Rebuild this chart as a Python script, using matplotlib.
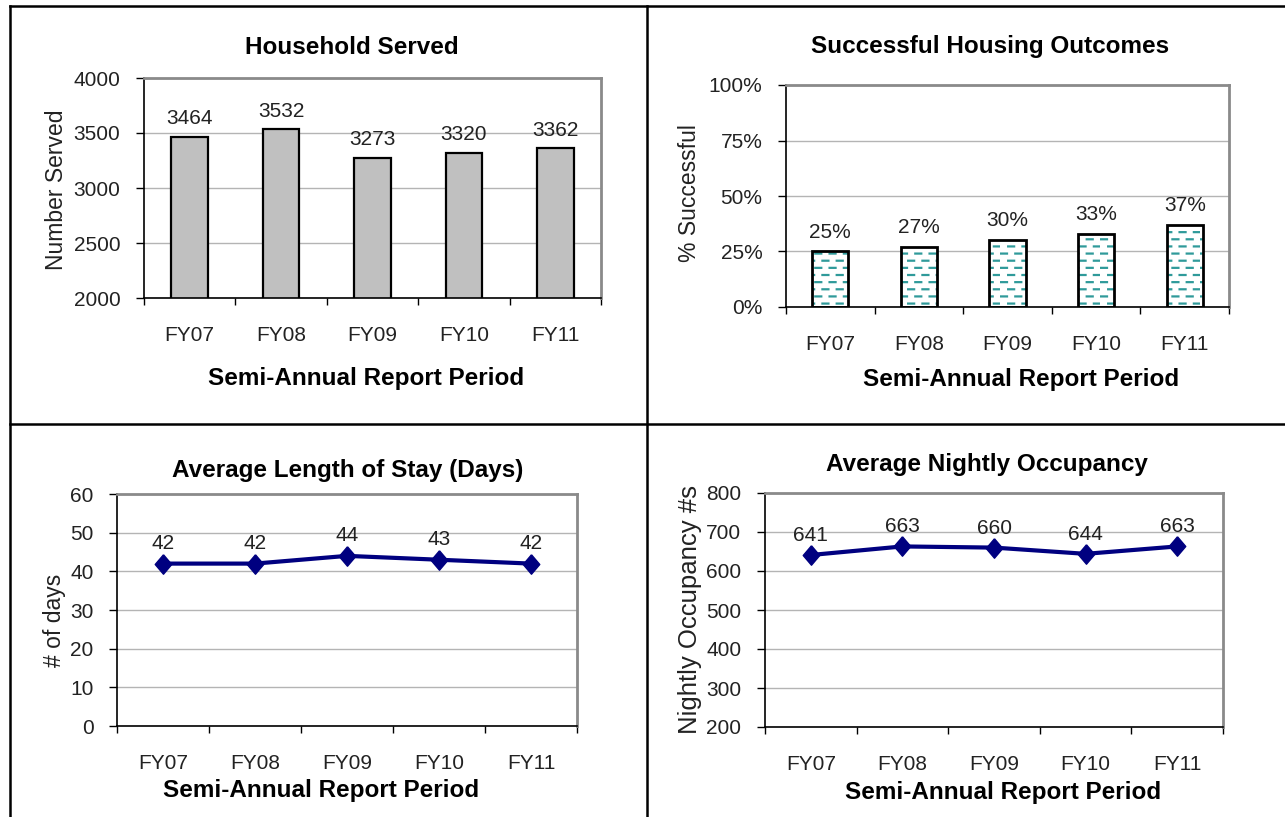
import numpy as np
import matplotlib
matplotlib.use("Agg")
from matplotlib import pyplot as plt
from matplotlib import hatch as mhatch
from matplotlib.lines import Line2D
from matplotlib.path import Path
from matplotlib.ticker import FuncFormatter, MultipleLocator

plt.rcParams["font.family"] = ["Liberation Sans", "DejaVu Sans"]

categories = ["FY07", "FY08", "FY09", "FY10", "FY11"]
households = [3464, 3532, 3273, 3320, 3362]
success_pct = [25, 27, 30, 33, 37]
stay_days = [42, 42, 44, 43, 42]
occupancy = [641, 663, 660, 644, 663]

W, H = 1285, 817
INK = "#222222"
GRID = "#b4b4b4"
FRAME = "#8a8a8a"
NAVY = "#000080"
TEAL = "#2f9a9a"
TICK_FS = 15
BOLD_FS = 17.5
# slightly taller-than-wide diamond, as Excel draws it
DIAMOND = [(0, 1), (0.85, 0), (0, -1), (-0.85, 0), (0, 1)]


# Excel-style dashed horizontal fill -- swap matplotlib's '-' hatch for short
# staggered dashes (the pattern only lives in this one chart)
class DashRows(mhatch.HatchPatternBase):
    rows, per_row, dash = 14, 7, 0.06

    def __init__(self, hatch, density):
        self.num_vertices = 2 * self.rows * self.per_row if "-" in hatch else 0

    def set_vertices_and_codes(self, vertices, codes):
        k = 0
        for i in range(self.rows):
            y = (i + 0.5) / self.rows
            shift = 0.5 / self.per_row if i % 2 else 0.0
            for j in range(self.per_row):
                x0 = j / self.per_row + shift + 0.01
                vertices[k] = (x0, y)
                vertices[k + 1] = (x0 + self.dash, y)
                codes[k] = Path.MOVETO
                codes[k + 1] = Path.LINETO
                k += 2


mhatch._hatch_types = [DashRows if t is mhatch.HorizontalHatch else t
                       for t in mhatch._hatch_types]
plt.rcParams["hatch.linewidth"] = 1.6


def box(left, top, right, bottom):
    return [left / W, 1 - bottom / H, (right - left) / W, (bottom - top) / H]


def ftext(fig, x, y, s, **kw):
    fig.text(x / W, 1 - y / H, s, ha="center", va="center", **kw)


def style(ax, ymin, ymax, step):
    ax.set_xlim(-0.5, len(categories) - 0.5)
    ax.set_ylim(ymin, ymax)
    ax.yaxis.set_major_locator(MultipleLocator(step))
    ax.set_xticks(range(len(categories)))
    ax.set_xticklabels(categories)
    ax.set_xticks(np.arange(-0.5, len(categories)), minor=True)
    ax.tick_params(axis="x", which="major", length=0, pad=20,
                   labelsize=TICK_FS, labelcolor=INK)
    ax.tick_params(axis="x", which="minor", length=5, width=1, color="black")
    ax.tick_params(axis="y", length=6, width=1, pad=11, labelsize=TICK_FS,
                   labelcolor=INK)
    ax.grid(axis="y", color=GRID, linewidth=1)
    ax.set_axisbelow(True)
    for side in ("left", "bottom"):
        ax.spines[side].set_color("black")
        ax.spines[side].set_linewidth(1.2)
    for side in ("top", "right"):
        ax.spines[side].set_color(FRAME)
        ax.spines[side].set_linewidth(2)


def labels(ax, xs, ys, fmt, offset):
    for x, y in zip(xs, ys):
        ax.annotate(fmt.format(y), (x, y), textcoords="offset points",
                    xytext=(0, offset), ha="center", va="center",
                    fontsize=TICK_FS, color=INK)


fig = plt.figure(figsize=(W / 100, H / 100), dpi=100)
x = np.arange(len(categories))

# household served
ax1 = fig.add_axes(box(144, 78, 601, 298))
style(ax1, 2000, 4000, 500)
ax1.bar(x, households, width=0.4, bottom=0, color="#c0c0c0",
        edgecolor="black", linewidth=1.6)
ax1.set_ylim(2000, 4000)
labels(ax1, x, households, "{}", 13)
ftext(fig, 352, 47, "Household Served", fontsize=BOLD_FS, fontweight="bold")
ftext(fig, 366, 378, "Semi-Annual Report Period", fontsize=BOLD_FS,
      fontweight="bold")
ftext(fig, 57, 190, "Number Served", fontsize=16.5, color=INK, rotation=90)

# successful housing outcomes
ax2 = fig.add_axes(box(786, 85, 1229, 307))
style(ax2, 0, 100, 25)
ax2.yaxis.set_major_formatter(FuncFormatter(lambda v, _: f"{v:.0f}%"))
ax2.bar(x, success_pct, width=0.41, color="white", edgecolor=TEAL,
        hatch="-", linewidth=0)
ax2.bar(x, success_pct, width=0.41, fill=False, edgecolor="black",
        linewidth=2)
labels(ax2, x, success_pct, "{}%", 14)
ftext(fig, 990, 47, "Successful Housing Outcomes", fontsize=BOLD_FS,
      fontweight="bold")
ftext(fig, 1021, 380, "Semi-Annual Report Period", fontsize=BOLD_FS,
      fontweight="bold")
ftext(fig, 690, 193, "% Successful", fontsize=16.5, color=INK, rotation=90)

# average length of stay
ax3 = fig.add_axes(box(117, 494, 577, 726))
style(ax3, 0, 60, 10)
ax3.plot(x, stay_days, color=NAVY, linewidth=3, marker=DIAMOND,
         markersize=14)
labels(ax3, x, stay_days, "{}", 14.5)
ftext(fig, 348, 471, "Average Length of Stay (Days)", fontsize=BOLD_FS,
      fontweight="bold")
ftext(fig, 321, 791, "Semi-Annual Report Period", fontsize=BOLD_FS,
      fontweight="bold")
ftext(fig, 55, 620, "# of days", fontsize=16.5, color=INK, rotation=90)

# average nightly occupancy
ax4 = fig.add_axes(box(765, 493, 1223, 727))
style(ax4, 200, 800, 100)
ax4.plot(x, occupancy, color=NAVY, linewidth=3, marker=DIAMOND,
         markersize=14)
labels(ax4, x, occupancy, "{}", 14)
ftext(fig, 987, 465, "Average Nightly Occupancy", fontsize=BOLD_FS,
      fontweight="bold")
ftext(fig, 1003, 793, "Semi-Annual Report Period", fontsize=BOLD_FS,
      fontweight="bold")
ftext(fig, 690, 610, "Nightly Occupancy #s", fontsize=18.5, color=INK,
      rotation=90)

# table borders around the four panels
for (x0, y0), (x1, y1) in [((10, 6), (W, 6)), ((10, 6), (10, H)),
                           ((647, 6), (647, H)), ((10, 424), (W, 424))]:
    fig.add_artist(Line2D([x0 / W, x1 / W], [1 - y0 / H, 1 - y1 / H],
                          color="black", linewidth=1.8))

fig.savefig("out.png", dpi=100)
